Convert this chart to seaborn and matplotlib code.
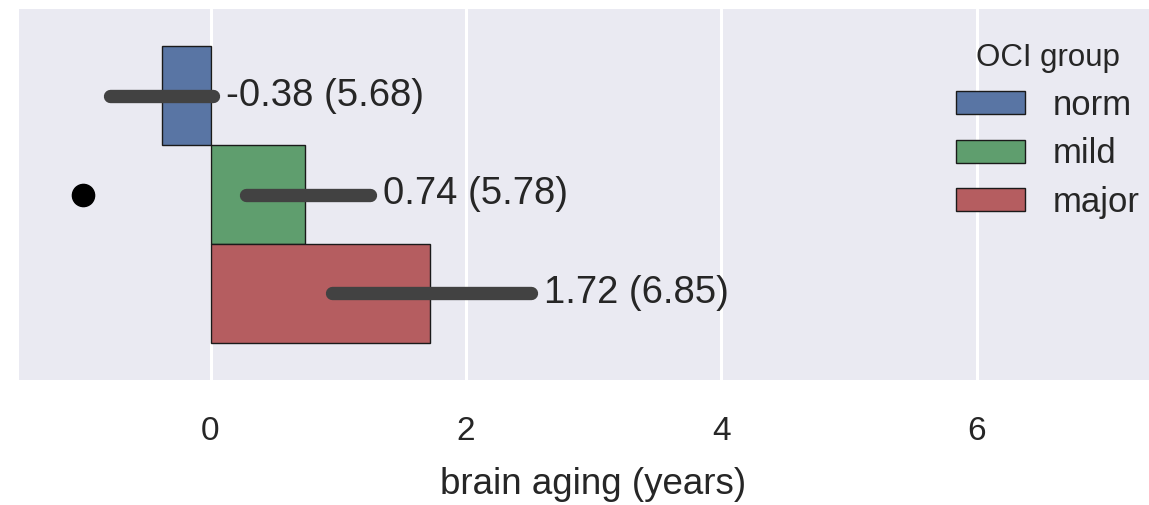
import matplotlib
matplotlib.use("Agg")
import matplotlib.pyplot as plt
import seaborn as sns
import pandas as pd

# Brain aging by OCI group: mean, SD and 95% CI bounds
groups = ["norm", "mild", "major"]
means = [-0.38, 0.74, 1.72]
sds = [5.68, 5.78, 6.85]
ci_low = [-0.79, 0.28, 0.95]
ci_high = [0.02, 1.25, 2.51]
outlier_x = [-1.0]
xticks = [0, 2, 4, 6]
palette = ["#4C72B0", "#55A868", "#C44E52"]

sns.set_theme(style="darkgrid")
plt.rcParams["font.family"] = ["Liberation Sans", "DejaVu Sans"]
plt.rcParams["text.color"] = "#262626"

df = pd.DataFrame({"row": ["all"] * len(groups), "group": groups, "aging": means})

fig = plt.figure(figsize=(11.49, 5.05), dpi=100)
ax = fig.add_axes([19 / 1149, 1 - 380 / 505, (1168 - 19) / 1149, 371 / 505])

sns.barplot(data=df, x="aging", y="row", hue="group", hue_order=groups,
            palette=palette, orient="h", errorbar=None,
            edgecolor="#1a1a1a", linewidth=1.0, ax=ax)

# error bars and value labels at each bar centre
bars = [p for p in ax.patches if p.get_height() > 0][:len(groups)]
for bar, lo, hi, m, s in zip(bars, ci_low, ci_high, means, sds):
    yc = bar.get_y() + bar.get_height() / 2
    ax.plot([lo, hi], [yc, yc], color="#424242", lw=9.6,
            solid_capstyle="round", zorder=4)
    ax.text(hi + 0.1, yc, f"{m:.2f} ({s:.2f})", va="center", ha="left",
            fontsize=27.5, color="#262626", zorder=5)

ax.plot(outlier_x, [0] * len(outlier_x), "o", color="black", ms=16, zorder=5)

ax.set_xlim(-1.5, 7.5)
ax.set_ylim(0.5, -0.5)
ax.set_xticks(xticks)
ax.set_xticklabels([str(t) for t in xticks])
ax.grid(axis="y", visible=False)
ax.grid(axis="x", color="white", lw=2.2)
ax.set_yticks([])
ax.set_ylabel("")
ax.tick_params(axis="x", length=0, pad=26, labelsize=24, labelcolor="#262626")
ax.set_xlabel("brain aging (years)", fontsize=26.5, labelpad=14.5, color="#262626")
for sp in ax.spines.values():
    sp.set_visible(False)

handles, labels = ax.get_legend_handles_labels()
leg = ax.legend(handles, labels, title="OCI group", loc="upper right",
                bbox_to_anchor=((1171 - 19) / (1168 - 19), 0.992),
                frameon=False, fontsize=25, title_fontsize=22.5,
                handlelength=2.0, handleheight=0.65, labelspacing=0.45,
                handletextpad=0.8)
leg.get_title().set_color("#262626")

fig.savefig("out.png", dpi=100)
